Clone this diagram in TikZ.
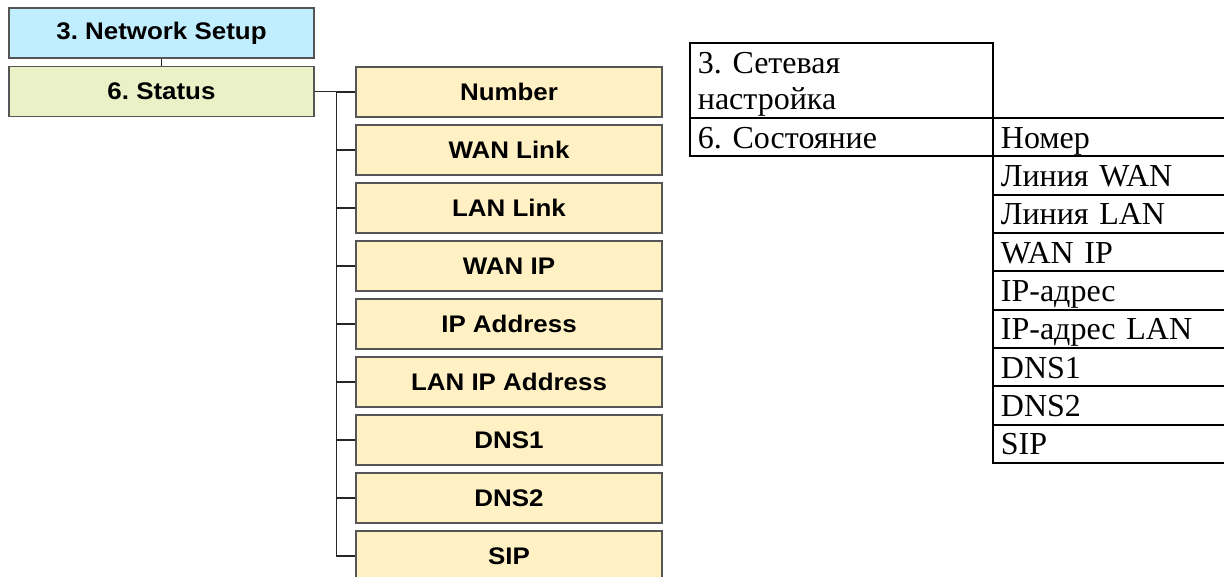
\documentclass[tikz,border=0pt]{standalone}
\usepackage{fontspec}
\setmainfont{Liberation Serif}
\newfontfamily\menufont[FakeStretch=1.08]{Liberation Sans}
\usetikzlibrary{positioning}
\definecolor{setupblue}{RGB}{193,238,255}
\definecolor{statusgreen}{RGB}{235,241,199}
\definecolor{itemyellow}{RGB}{255,241,196}
\definecolor{boxgray}{RGB}{85,85,85}
\tikzset{
  menubox/.style={draw=boxgray,line width=1.3pt,minimum width=305pt,minimum height=50pt,
    inner sep=0pt,font=\menufont\fontsize{24}{28}\selectfont\bfseries},
  link/.style={draw=black!85,line width=1.3pt},
  cell/.style={draw=black,line width=1.8pt,anchor=north west,inner xsep=8pt,inner ysep=4.2pt,
    text height=26pt,text depth=4pt,align=left,font=\fontsize{32}{36}\selectfont},
}

\begin{document}
\frenchspacing
\begin{tikzpicture}[x=1pt,y=-1pt]
  \useasboundingbox (0,0) rectangle (1224,577);
  \clip (0,0) rectangle (1224,577);
  % menu tree
  \node[menubox,fill=setupblue] (netsetup) at (161.5,33) {3. Network Setup};
  \node[menubox,fill=statusgreen,below=7pt of netsetup] (status) {6. Status};
  \draw[link] (netsetup) -- (status);
  \foreach \lbl [count=\i] in {Number,WAN Link,LAN Link,WAN IP,IP Address,LAN IP Address,DNS1,DNS2,SIP} {
    \node[menubox,fill=itemyellow,minimum width=306pt] (item\i) at (509,34+58*\i) {\lbl};
  }
  \draw[link] (status.east) -- ++(22,0) coordinate (bus) |- (item9.west);
  \foreach \i in {1,...,8} {
    \draw[link] (bus |- item\i.west) -- (item\i.west);
  }
  % translated table
  \node[cell,minimum width=303pt,text width=287pt,text depth=40pt,minimum height=75pt] (hdr) at (689,42) {3. Сетевая\\настройка};
  \node[cell,minimum width=303pt,text width=287pt,minimum height=38.33pt] (state) at (689,117) {6. Состояние};
  \foreach \lbl [count=\i] in {Номер,Линия WAN,Линия LAN,WAN IP,IP-адрес,IP-адрес LAN,DNS1,DNS2,SIP} {
    \node[cell,minimum width=260pt,text width=244pt,minimum height=38.33pt] (row\i) at (992,117+38.33*\i-38.33) {\lbl};
  }
\end{tikzpicture}
\end{document}
